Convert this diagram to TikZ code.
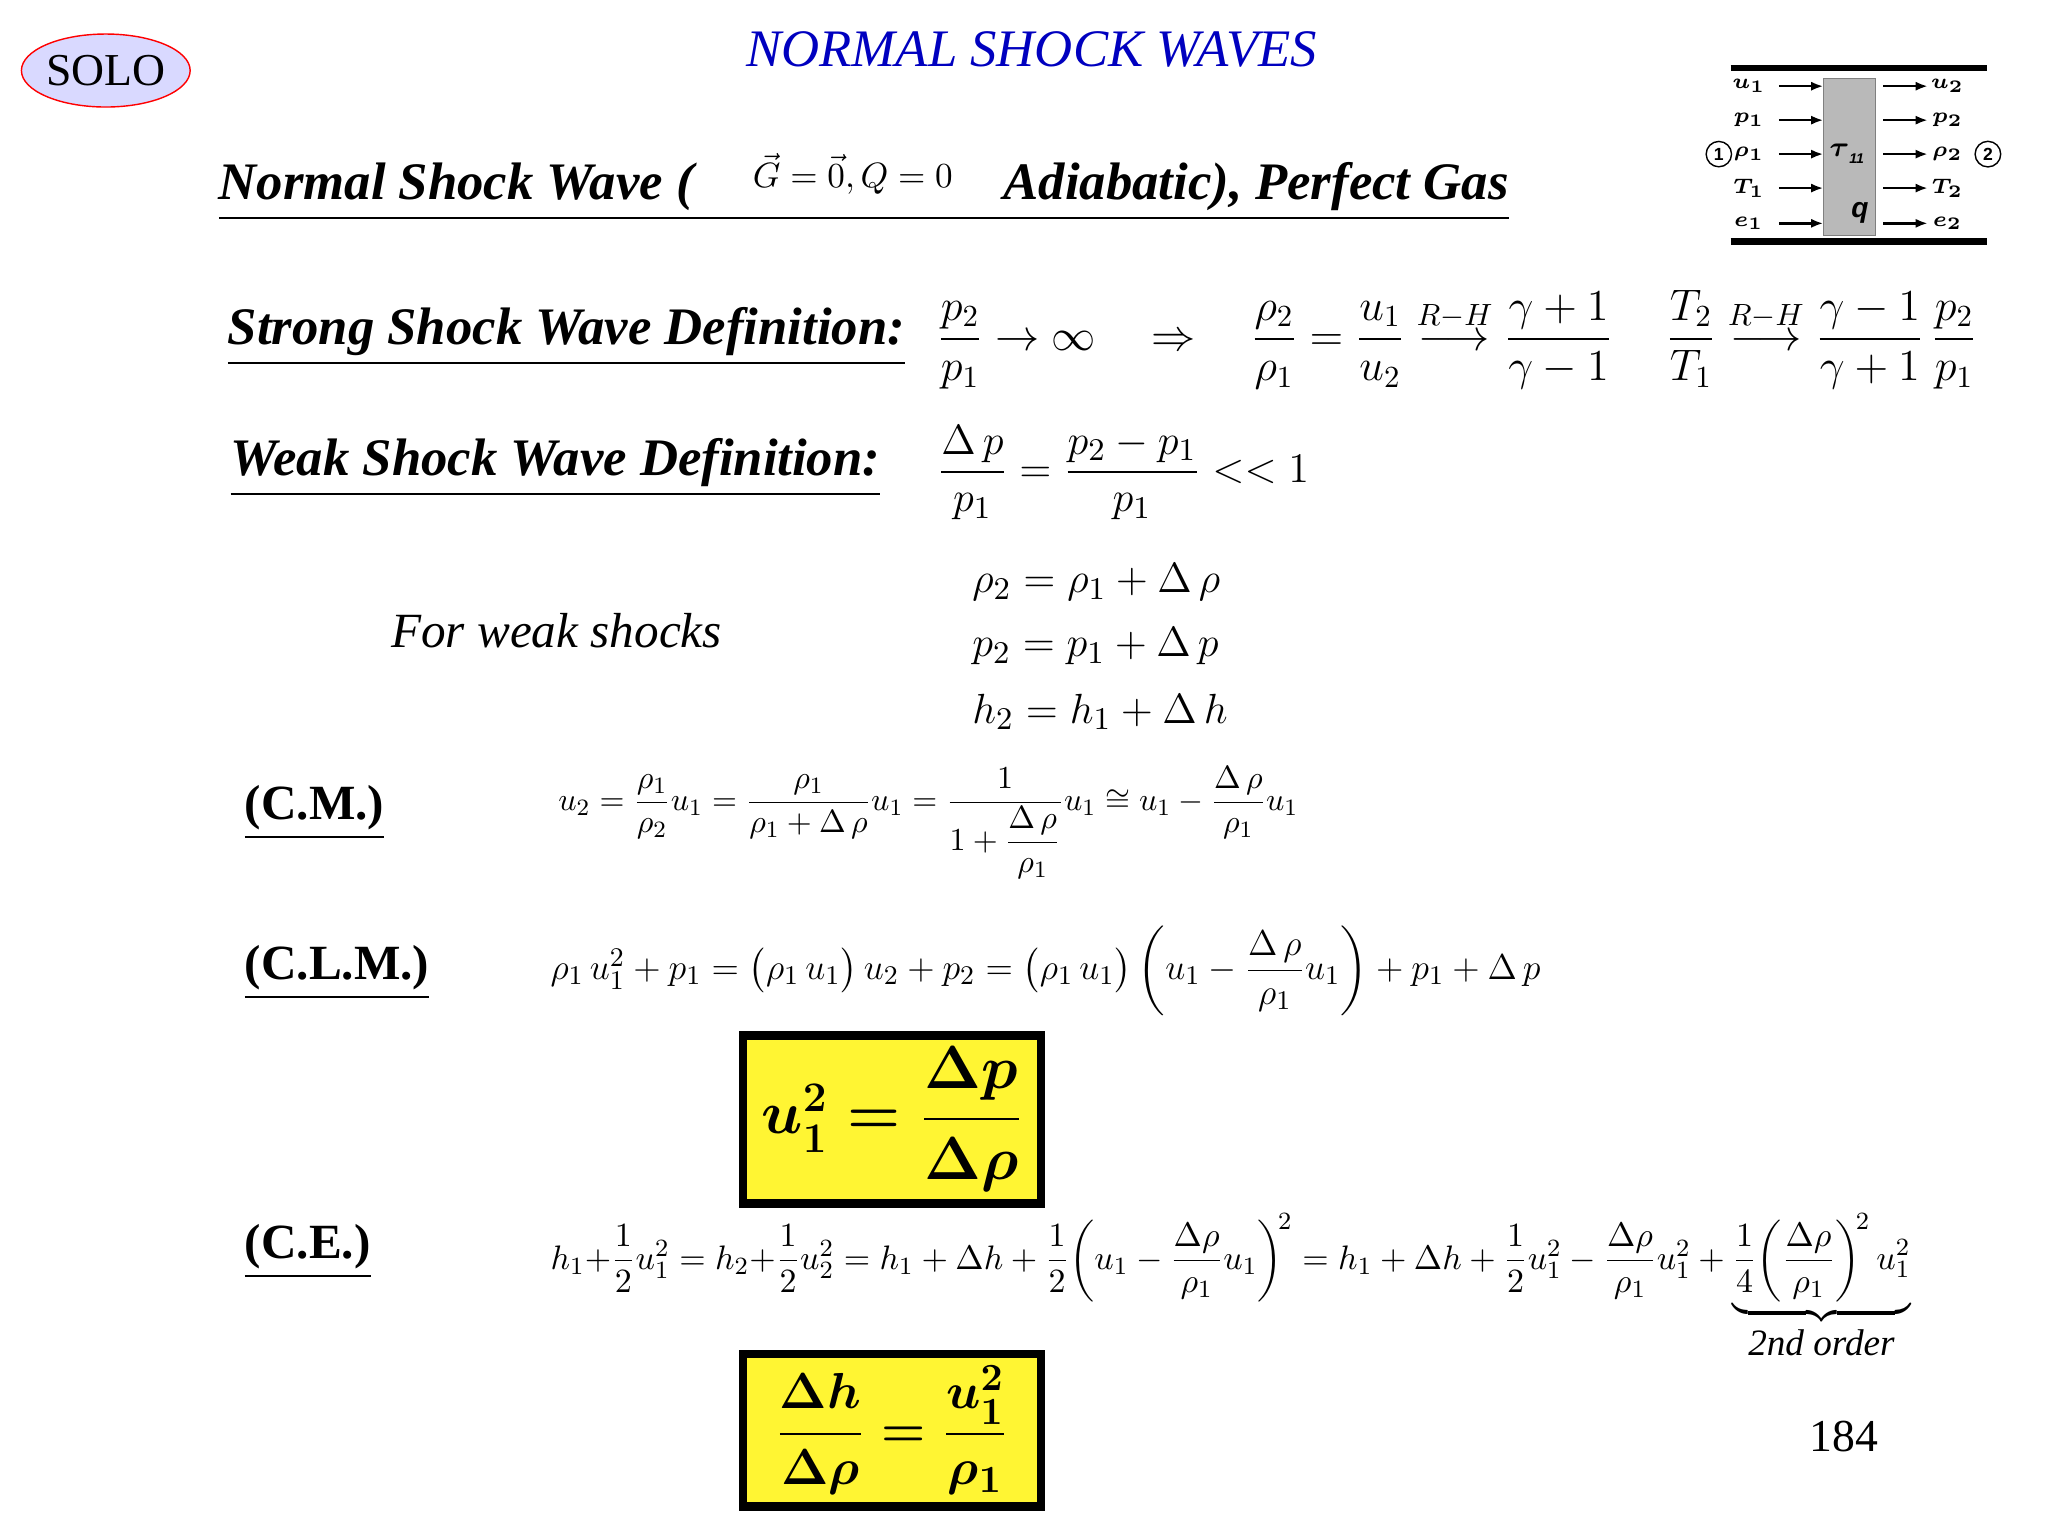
\documentclass[tikz,border=0pt]{standalone}
\usepackage{fontspec}
\setmainfont{Liberation Serif}
\newfontfamily\arialf{Liberation Sans}
\usepackage{amsmath,amssymb,graphicx}
\usetikzlibrary{arrows.meta,shapes.geometric}
\tikzset{
 hd/.style={anchor=west,font=\fontsize{15}{17}\selectfont\bfseries\itshape},
 ce/.style={anchor=west,font=\fontsize{14}{16}\selectfont\bfseries},
 eq/.style={anchor=west,font=\fontsize{11}{13}\selectfont},
 lab/.style={font=\arialf\bfseries\itshape\fontsize{6.5}{7}\selectfont},
 arr/.style={-{Latex[length=3.5pt]},line width=0.7pt},
 ybox/.style={draw,line width=2.5pt,fill=yellow!80!white,minimum width=2.98cm,minimum height=1.36cm}
}
\begin{document}
\begin{tikzpicture}[x=0.01306cm,y=-0.01306cm]
\useasboundingbox (0,0) rectangle (1568,1176);
% SOLO
\node[ellipse,draw=red,fill=blue!15,minimum width=1.65cm,minimum height=0.73cm,inner sep=0,font=\fontsize{13}{15}\selectfont] (solo) at (81,54) {SOLO};
\node[font=\itshape\fontsize{15}{17}\selectfont,text=blue!75!black] (title) at (790,38) {NORMAL SHOCK WAVES};
% main heading
\node[hd] (h1) at (158,142) {\underline{Normal Shock Wave (\phantom{$\vec G=\vec 0,Q=0$}\ \ Adiabatic), Perfect Gas}};
\node[font=\fontsize{10}{12}\selectfont] (gq) at (653,133) {$\vec G=\vec 0,Q=0$};
% diagram
\draw[line width=1.8pt] (1325,52) -- (1521,52);
\draw[line width=1.8pt] (1325,185) -- (1521,185);
\node[draw=gray,fill=gray!55,minimum width=0.52cm,minimum height=1.57cm,inner sep=0] (sbox) at (1416,120) {};
\node[lab,font=\arialf\bfseries\itshape\fontsize{8}{9}\selectfont] (tau) at (1414,118) {$\boldsymbol\tau$\raisebox{-2pt}{\fontsize{4}{4}\selectfont 11}};
\node[lab,font=\arialf\bfseries\itshape\fontsize{8}{9}\selectfont] (qq) at (1424,163) {q};
\foreach \yy/\a/\b [count=\i] in {66/u_1/u_2,92/p_1/p_2,118/\rho_1/\rho_2,144/T_1/T_2,171/e_1/e_2}{
  \node[lab] (l\i) at (1339,\yy) {$\boldsymbol{\a}$};
  \node[lab] (r\i) at (1491,\yy) {$\boldsymbol{\b}$};
  \coordinate (la\i) at (1362,\yy); \coordinate (lb\i) at (1396,\yy);
  \coordinate (ra\i) at (1442,\yy); \coordinate (rb\i) at (1476,\yy);
  \draw[arr] (la\i) -- (lb\i); \draw[arr] (ra\i) -- (rb\i);
}
\node[circle,draw,inner sep=1pt,lab,font=\arialf\bfseries\fontsize{5}{5}\selectfont] (c1) at (1316,118) {1};
\node[circle,draw,inner sep=1pt,lab,font=\arialf\bfseries\fontsize{5}{5}\selectfont] (c2) at (1522,118) {2};
% strong / weak
\node[hd] (h2) at (165,258) {\underline{Strong Shock Wave Definition:}};
\node[eq,font=\fontsize{14}{16}\selectfont] (s1) at (708,260) {\resizebox{10.4cm}{!}{$\dfrac{p_2}{p_1}\to\infty\quad\Rightarrow\quad \dfrac{\rho_2}{\rho_1}=\dfrac{u_1}{u_2}\overset{R-H}{\longrightarrow}\dfrac{\gamma+1}{\gamma-1}\quad\ \dfrac{T_2}{T_1}\overset{R-H}{\longrightarrow}\dfrac{\gamma-1}{\gamma+1}\,\dfrac{p_2}{p_1}$}};
\node[hd] (h3) at (167,358) {\underline{Weak Shock Wave Definition:}};
\node[eq,font=\fontsize{13}{15}\selectfont] (w1) at (708,362) {$\dfrac{\Delta\, p}{p_1}=\dfrac{p_2-p_1}{p_1}<<1$};
\node[anchor=west,font=\itshape\fontsize{14}{16}\selectfont] (fw) at (290,483) {For weak shocks};
\node[anchor=west,font=\fontsize{13}{15}\selectfont] (e1) at (735,446) {$\rho_2=\rho_1+\Delta\,\rho$};
\node[anchor=west,font=\fontsize{13}{15}\selectfont] (e2) at (735,495) {$p_2=p_1+\Delta\,p$};
\node[anchor=west,font=\fontsize{13}{15}\selectfont] (e3) at (735,545) {$h_2=h_1+\Delta\,h$};
% CM
\node[ce] (cm) at (178,622) {\underline{(C.M.)}};
\node[eq] (cmq) at (418,630) {\resizebox{7.4cm}{!}{$u_2=\dfrac{\rho_1}{\rho_2}u_1=\dfrac{\rho_1}{\rho_1+\Delta\,\rho}u_1=\dfrac{1}{1+\dfrac{\Delta\,\rho}{\rho_1}}u_1\cong u_1-\dfrac{\Delta\,\rho}{\rho_1}u_1$}};
% CLM
\node[ce] (clm) at (178,745) {\underline{(C.L.M.)}};
\node[eq,font=\fontsize{12.5}{15}\selectfont] (clmq) at (412,743) {\resizebox{9.9cm}{!}{$\rho_1\,u_1^2+p_1=\bigl(\rho_1\,u_1\bigr)\,u_2+p_2=\bigl(\rho_1\,u_1\bigr)\left(u_1-\dfrac{\Delta\,\rho}{\rho_1}u_1\right)+p_1+\Delta\,p$}};
\node[ybox,font=\bfseries\itshape\fontsize{17}{19}\selectfont] (b1) at (683,857) {$\boldsymbol{u_1^2=\dfrac{\Delta p}{\Delta\rho}}$};
% CE
\node[ce] (ce) at (178,958) {\underline{(C.E.)}};
\node[eq] (ceq) at (412,985) {\resizebox{13.6cm}{!}{$h_1{+}\dfrac12u_1^2=h_2{+}\dfrac12u_2^2=h_1+\Delta h+\dfrac12\!\left(u_1-\dfrac{\Delta\rho}{\rho_1}u_1\right)^{\!2}=h_1+\Delta h+\dfrac12u_1^2-\dfrac{\Delta\rho}{\rho_1}u_1^2+\underbrace{\dfrac14\!\left(\dfrac{\Delta\rho}{\rho_1}\right)^{\!2}u_1^2}_{\text{\itshape\fontsize{12}{13}\selectfont 2nd order}}$}};
\node[ybox,font=\bfseries\itshape\fontsize{15}{17}\selectfont] (b2) at (683,1095) {$\boldsymbol{\dfrac{\Delta h}{\Delta\rho}=\dfrac{u_1^2}{\rho_1}}$};
\node[font=\fontsize{13}{15}\selectfont] (pg) at (1412,1100) {184};
\end{tikzpicture}
\end{document}
